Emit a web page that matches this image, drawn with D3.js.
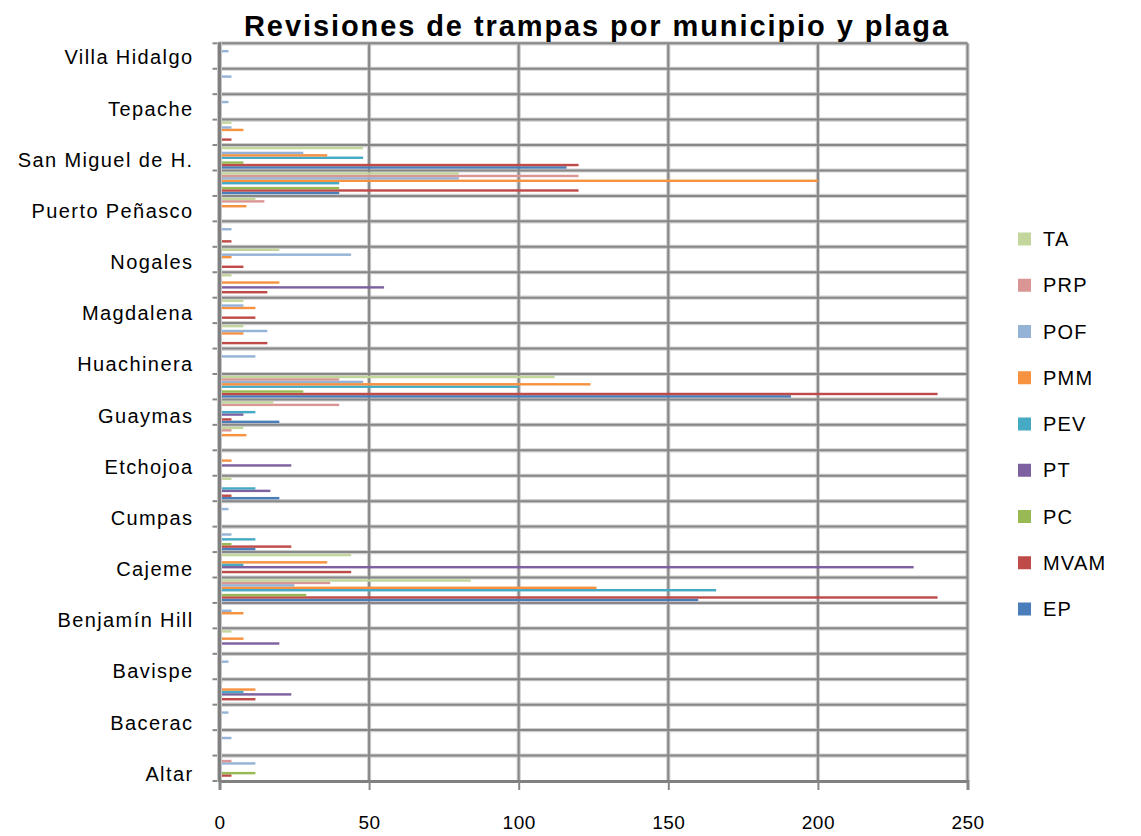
<!DOCTYPE html>
<html><head><meta charset="utf-8">
<script src="https://cdn.jsdelivr.net/npm/d3@7"></script>
<style>body{margin:0;background:#fff;} svg{display:block;font-family:"Liberation Sans",Arial,sans-serif;}</style>
</head><body><svg id="c" width="1141" height="836"></svg>
<script>
const categories = ["Altar","Arizpe","Bacerac","Bácum","Bavispe","Benito Juárez","Benjamín Hill","Caborca","Cajeme","Cananea","Cumpas","Empalme","Etchojoa","Fronteras","Guaymas","Hermosillo","Huachinera","Huatabampo","Magdalena","Navojoa","Nogales","Pitiquito","Puerto Peñasco","San Luis Río Colorado","San Miguel de H.","Santa Ana","Tepache","Ures","Villa Hidalgo"];
const seriesNames = ["EP","MVAM","PC","PT","PEV","PMM","POF","PRP","TA"];
const EP   = [0,0,0,0,0,0,0,160,0,12,0,20,0,0,20,191,0,0,0,0,0,0,0,40,116,0,0,0,0];
const MVAM = [4,0,0,12,0,0,0,240,44,24,0,4,0,0,4,240,0,16,12,16,8,4,0,120,120,4,0,0,0];
const PC   = [12,0,0,0,0,0,0,29,0,4,0,0,0,0,0,28,0,0,0,0,0,0,0,40,8,0,0,0,0];
const PT   = [0,0,0,24,0,20,0,0,232,0,0,17,24,0,8,0,0,0,0,55,0,0,0,0,0,0,0,0,0];
const PEV  = [0,0,0,8,0,0,0,166,8,12,0,12,0,0,12,100,0,0,0,0,0,0,0,40,48,0,0,0,0];
const PMM  = [0,0,0,12,0,8,8,126,36,0,0,0,4,9,0,124,0,8,12,20,4,0,9,200,36,8,0,0,0];
const POF  = [12,4,3,0,3,0,4,25,0,4,3,0,0,0,0,48,12,16,8,0,44,4,0,80,28,4,3,4,3];
const PRP  = [4,0,0,0,0,0,0,37,0,0,0,0,0,4,40,40,0,0,0,0,0,0,15,120,0,0,0,0,0];
const TA   = [0,0,0,1,0,4,0,84,44,0,0,4,0,8,18,112,0,8,8,4,20,0,12,80,48,4,0,0,0];
const xTicks = [0,50,100,150,200,250];
const seriesColors = ["#4A7EBB","#BE4B48","#98B954","#7D60A0","#46AAC5","#F69240","#94B3D6","#DA9694","#C3D69B"];

const seriesValues = {EP, MVAM, PC, PT, PEV, PMM, POF, PRP, TA};
const color = d3.scaleOrdinal().domain(seriesNames).range(seriesColors);

const svg = d3.select("#c");
const L = 219.5, R = 967.5, T = 43.3, B = 781;
const x = d3.scaleLinear().domain([0, 250]).range([L, R]);
const y = d3.scaleBand().domain(categories).range([B, T]);
const yi = d3.scaleBand().domain(seriesNames).range([y.bandwidth(), 0]).paddingOuter(0.75);

// gridlines
const grid = svg.append("g");
const hLines = categories.map(c => y(c));
const vLines = xTicks.filter(t => t > 0);
[["#cfcfcf", 4.2], ["#878787", 2]].forEach(([col, w]) => {
  grid.selectAll(null).data(hLines).join("line")
    .attr("x1", L).attr("x2", R).attr("y1", d => d).attr("y2", d => d)
    .attr("stroke", col).attr("stroke-width", w);
  grid.selectAll(null).data(vLines).join("line")
    .attr("x1", d => x(d)).attr("x2", d => x(d)).attr("y1", T).attr("y2", B)
    .attr("stroke", col).attr("stroke-width", w);
});

// bars
const bars = svg.append("g");
seriesNames.forEach(s => {
  bars.selectAll(null)
    .data(categories.map((c, i) => ({c, v: seriesValues[s][i]})).filter(d => d.v > 0))
    .join("rect")
    .attr("x", x(0))
    .attr("y", d => y(d.c) + yi(s))
    .attr("width", d => x(d.v) - x(0))
    .attr("height", yi.bandwidth())
    .attr("fill", color(s));
});

// y axis
const yAxisG = svg.append("g").attr("transform", `translate(${L},0)`)
  .call(d3.axisLeft(y).tickValues(categories.filter((d, i) => i % 2 === 0)).tickSize(0).tickPadding(26));
yAxisG.select(".domain").remove();
yAxisG.selectAll("text").attr("font-size", 20).attr("fill", "#000")
  .attr("letter-spacing", 1.4)
  .attr("y", d => 2 + 4 * (1 - categories.indexOf(d) / 28));

const tickYs = hLines.concat([B]);
svg.append("g").selectAll("line").data(tickYs).join("line")
  .attr("x1", L - 7).attr("x2", L).attr("y1", d => d).attr("y2", d => d)
  .attr("stroke", "#878787").attr("stroke-width", 2);
svg.append("line").attr("x1", L).attr("x2", L).attr("y1", T - 1).attr("y2", B + 1)
  .attr("stroke", "#c8c8c8").attr("stroke-width", 5);
svg.append("line").attr("x1", L).attr("x2", L).attr("y1", T - 1).attr("y2", B + 1)
  .attr("stroke", "#808080").attr("stroke-width", 3);

// x axis
const xAxisG = svg.append("g").attr("transform", `translate(0,${B})`)
  .call(d3.axisBottom(x).tickValues(xTicks).tickSize(9).tickPadding(26));
xAxisG.select(".domain").attr("stroke", "#808080").attr("stroke-width", 3);
xAxisG.selectAll(".tick line").attr("stroke", "#878787").attr("stroke-width", 2);
xAxisG.selectAll("text").attr("font-size", 19).attr("fill", "#000").attr("letter-spacing", 0.5);

// legend
const legend = svg.append("g");
seriesNames.slice().reverse().forEach((s, i) => {
  const ly = 239 + i * 46.25;
  legend.append("rect").attr("x", 1018).attr("y", ly - 6.5).attr("width", 13).attr("height", 13).attr("fill", color(s));
  legend.append("text").attr("x", 1043).attr("y", ly).attr("dy", "0.35em")
    .attr("font-size", 20).attr("letter-spacing", 1.2).attr("fill", "#000").text(s);
});

// title
const title = svg.append("text").attr("x", 597).attr("y", 36).attr("text-anchor", "middle")
  .attr("font-weight", "bold").attr("font-size", 29).attr("fill", "#000")
  .text("Revisiones de trampas por municipio y plaga");
const wt = title.node().getComputedTextLength();
const nChars = title.text().length;
title.attr("letter-spacing", Math.max(0, (706 - wt) / nChars));
</script></body></html>
